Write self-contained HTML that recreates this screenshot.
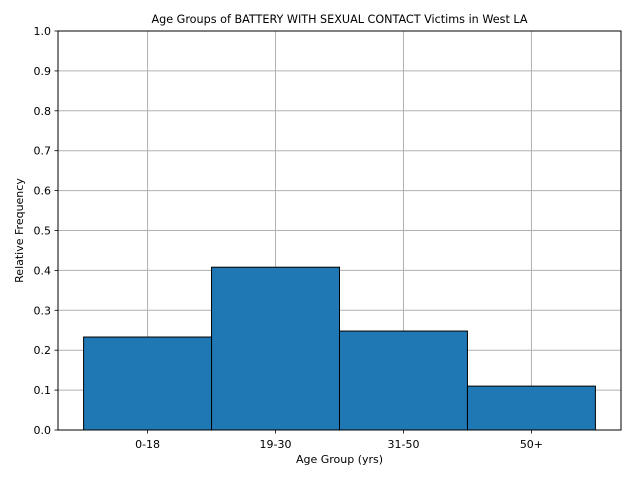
<!DOCTYPE html>
<html><head><meta charset="utf-8"><style>
body{margin:0;background:#fff;}
svg{display:block;font-family:"DejaVu Sans","Liberation Sans",sans-serif;}
</style></head><body>
<svg id="chart" width="640" height="480" viewBox="0 0 640 480">
<rect width="640" height="480" fill="#fff"/>
<g id="grid"></g><g id="bars"></g><g id="axes"></g>
</svg>
<script>
const categories=["0-18","19-30","31-50","50+"];
const values=[0.233,0.408,0.248,0.110];
const yTicks=[0,0.1,0.2,0.3,0.4,0.5,0.6,0.7,0.8,0.9,1.0];
const yTickLabels=["0.0","0.1","0.2","0.3","0.4","0.5","0.6","0.7","0.8","0.9","1.0"];
const L=58,R=621,T=31,B=430;
const NS="http://www.w3.org/2000/svg";
function x(i){return L+(i+0.7)/4.4*(R-L);}
function y(v){return B-v*(B-T);}
function mk(tag,attrs,parent,text){const e=document.createElementNS(NS,tag);for(const k in attrs)e.setAttribute(k,attrs[k]);if(text!==undefined)e.textContent=text;parent.appendChild(e);return e;}
const grid=document.getElementById('grid'),bars=document.getElementById('bars'),axes=document.getElementById('axes');
yTicks.forEach((t,i)=>{
 const g=mk('line',{x1:L,x2:R,y1:y(t),y2:y(t),stroke:'#b0b0b0','stroke-width':1},grid);
 
 
 mk('line',{x1:L-3.5,x2:L,y1:y(t),y2:y(t),stroke:'#000','stroke-width':0.8},axes);
 const tl=mk('text',{x:L-7,y:y(t)+4,'text-anchor':'end','font-size':11,fill:'#000'},axes,yTickLabels[i]);
 
 
});
categories.forEach((c,i)=>{
 const g=mk('line',{x1:x(i),x2:x(i),y1:T,y2:B,stroke:'#b0b0b0','stroke-width':1},grid);
 
 
 const b=mk('rect',{x:x(i-0.5),y:y(values[i]),width:x(i+0.5)-x(i-0.5),height:B-y(values[i]),fill:'#1f77b4',stroke:'#000','stroke-width':1},bars);
 
 
 mk('line',{x1:x(i),x2:x(i),y1:B,y2:B+3.5,stroke:'#000','stroke-width':0.8},axes);
 const tl=mk('text',{x:x(i),y:B+18,'text-anchor':'middle','font-size':11,fill:'#000'},axes,c);
 
 
});
const f=mk('rect',{x:L,y:T,width:R-L,height:B-T,fill:'none',stroke:'#000','stroke-width':1},axes);


const ti=mk('text',{x:(L+R)/2,y:23,'text-anchor':'middle','font-size':11.2,fill:'#000'},axes,'Age Groups of BATTERY WITH SEXUAL CONTACT Victims in West LA');


const xt=mk('text',{x:(L+R)/2,y:463,'text-anchor':'middle','font-size':11,fill:'#000'},axes,'Age Group (yrs)');


const yt=mk('text',{x:23,y:(T+B)/2,'text-anchor':'middle','font-size':11,fill:'#000',transform:'rotate(-90 23 '+((T+B)/2)+')'},axes,'Relative Frequency');


</script>
</body></html>
